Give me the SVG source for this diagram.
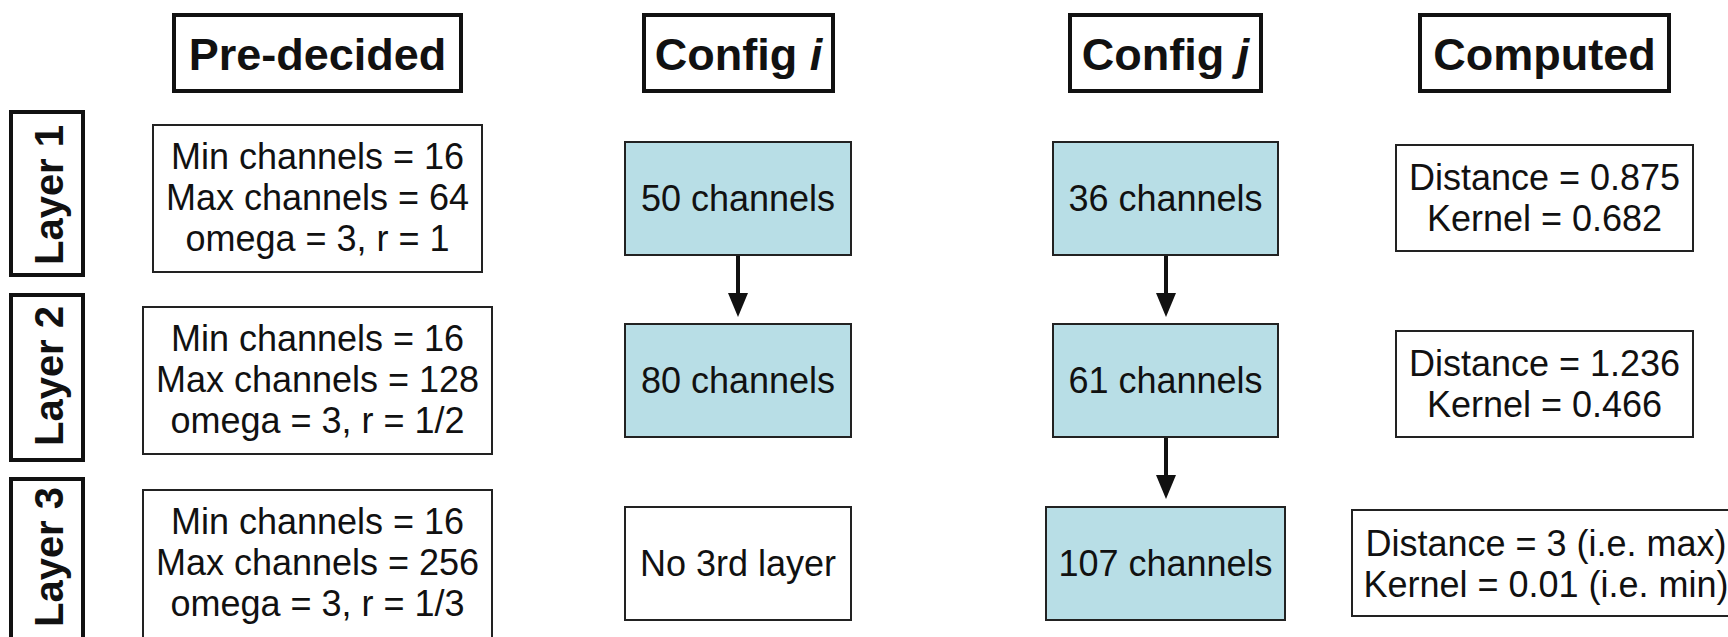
<svg xmlns="http://www.w3.org/2000/svg" width="1728" height="637" viewBox="0 0 1728 637">
<style>
.hdr{fill:#fff;stroke:#111;stroke-width:4}
.box{fill:#fff;stroke:#222;stroke-width:2}
.blue{fill:#b8dee6;stroke:#222;stroke-width:2}
.ht{font-family:"Liberation Sans",Arial,sans-serif;font-weight:bold;font-size:45px;fill:#111;text-anchor:middle}
.lt{font-family:"Liberation Sans",Arial,sans-serif;font-weight:bold;font-size:40px;fill:#111;text-anchor:middle}
.t{font-family:"Liberation Sans",Arial,sans-serif;font-size:36px;fill:#111;text-anchor:middle}
.conn{stroke:#111;stroke-width:4;fill:none}
</style>
<defs>
<marker id="ah" viewBox="0 0 24 20" refX="7" refY="10" markerWidth="24" markerHeight="20" markerUnits="userSpaceOnUse" orient="auto">
<path d="M0,0 L24,10 L0,20 Z" fill="#111"/>
</marker>
</defs>
<rect width="1728" height="637" fill="#fff"/>

<g id="hdr-predecided"><rect class="hdr" x="174" y="15" width="287" height="76"/><text class="ht" x="317.5" y="70">Pre-decided</text></g>
<g id="hdr-config-i"><rect class="hdr" x="644" y="15" width="189" height="76"/><text class="ht" x="738.5" y="70">Config <tspan font-style="italic">i</tspan></text></g>
<g id="hdr-config-j"><rect class="hdr" x="1070" y="15" width="191" height="76"/><text class="ht" x="1165.5" y="70">Config <tspan font-style="italic">j</tspan></text></g>
<g id="hdr-computed"><rect class="hdr" x="1420" y="15" width="249" height="76"/><text class="ht" x="1544.5" y="70">Computed</text></g>

<g id="layer1"><rect class="hdr" x="11" y="112" width="72" height="163"/><text class="lt" x="63" y="195" transform="rotate(-90 63 195)">Layer 1</text></g>
<g id="layer2"><rect class="hdr" x="11" y="295" width="72" height="165"/><text class="lt" x="63" y="376" transform="rotate(-90 63 376)">Layer 2</text></g>
<g id="layer3"><rect class="hdr" x="11" y="479" width="72" height="165"/><text class="lt" x="63" y="557" transform="rotate(-90 63 557)">Layer 3</text></g>

<g id="pre-l1"><rect class="box" x="153" y="125" width="329" height="147"/>
<text class="t" x="317.5" y="169">Min channels = 16</text><text class="t" x="317.5" y="210">Max channels = 64</text><text class="t" x="317.5" y="251">omega = 3, r = 1</text></g>
<g id="pre-l2"><rect class="box" x="143" y="307" width="349" height="147"/>
<text class="t" x="317.5" y="351">Min channels = 16</text><text class="t" x="317.5" y="392">Max channels = 128</text><text class="t" x="317.5" y="433">omega = 3, r = 1/2</text></g>
<g id="pre-l3"><rect class="box" x="143" y="490" width="349" height="150"/>
<text class="t" x="317.5" y="534">Min channels = 16</text><text class="t" x="317.5" y="575">Max channels = 256</text><text class="t" x="317.5" y="616">omega = 3, r = 1/3</text></g>

<g id="ci-l1"><rect class="blue" x="625" y="142" width="226" height="113"/><text class="t" x="738" y="211">50 channels</text></g>
<g id="ci-l2"><rect class="blue" x="625" y="324" width="226" height="113"/><text class="t" x="738" y="393">80 channels</text></g>
<g id="ci-l3"><rect class="box" x="625" y="507" width="226" height="113"/><text class="t" x="738" y="576">No 3rd layer</text></g>

<g id="cj-l1"><rect class="blue" x="1053" y="142" width="225" height="113"/><text class="t" x="1165.5" y="211">36 channels</text></g>
<g id="cj-l2"><rect class="blue" x="1053" y="324" width="225" height="113"/><text class="t" x="1165.5" y="393">61 channels</text></g>
<g id="cj-l3"><rect class="blue" x="1046" y="507" width="239" height="113"/><text class="t" x="1165.5" y="576">107 channels</text></g>

<g id="comp-l1"><rect class="box" x="1396" y="145" width="297" height="106"/>
<text class="t" x="1544.5" y="190">Distance = 0.875</text><text class="t" x="1544.5" y="231">Kernel = 0.682</text></g>
<g id="comp-l2"><rect class="box" x="1396" y="331" width="297" height="106"/>
<text class="t" x="1544.5" y="376">Distance = 1.236</text><text class="t" x="1544.5" y="417">Kernel = 0.466</text></g>
<g id="comp-l3"><rect class="box" x="1352" y="510" width="388" height="106"/>
<text class="t" x="1546" y="556">Distance = 3 (i.e. max)</text><text class="t" x="1546" y="597">Kernel = 0.01 (i.e. min)</text></g>

<g id="connectors">
<line class="conn" x1="738" y1="256" x2="738" y2="300" marker-end="url(#ah)"/>
<line class="conn" x1="1166" y1="256" x2="1166" y2="300" marker-end="url(#ah)"/>
<line class="conn" x1="1166" y1="438" x2="1166" y2="482" marker-end="url(#ah)"/>
</g>
</svg>
